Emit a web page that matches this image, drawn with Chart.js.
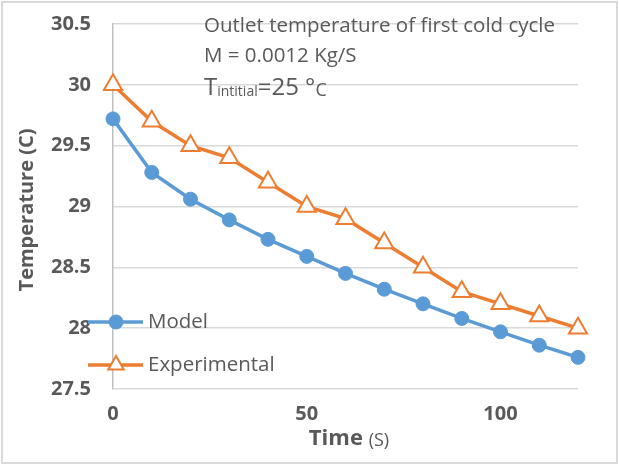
<!DOCTYPE html>
<html><head><meta charset="utf-8">
<script src="https://cdn.jsdelivr.net/npm/chart.js@4/dist/chart.umd.min.js"></script>
<style>html,body{margin:0;padding:0;background:#fff}#wrap{position:relative;width:619px;height:465px}</style>
</head><body><div id="wrap"><canvas id="c" width="619" height="465"></canvas></div>
<script>
const times = [0,10,20,30,40,50,60,70,80,90,100,110,120];
const modelTemps = [29.72,29.28,29.06,28.89,28.73,28.59,28.45,28.32,28.20,28.08,27.97,27.86,27.76];
const expTemps = [30.0,29.7,29.5,29.4,29.2,29.0,28.9,28.7,28.5,28.3,28.2,28.1,28.0];
const xTicks = [0,50,100];
const seriesNames = ['Model','Experimental'];
const noteLines = ['Outlet temperature of first cold cycle','M = 0.0012 Kg/S'];

const FONT = '"Open Sans", sans-serif';
const GREY = '#595959';
const BLUE = '#5b9bd5', ORANGE = '#ed7d31';

const extras = {
  id:'extras',
  afterDraw(chart){
    const ctx = chart.ctx;
    ctx.save();
    ctx.strokeStyle = '#d9d9d9'; ctx.lineWidth = 2;
    ctx.strokeRect(2,2,615,461);
    ctx.fillStyle = GREY; ctx.textBaseline = 'middle'; ctx.textAlign = 'left';
    ctx.font = '20.5px ' + FONT;
    ctx.fillText(noteLines[0], 204, 26);
    ctx.fillText(noteLines[1], 204, 56);
    let x = 204;
    ctx.font = '24px ' + FONT; ctx.fillText('T', x, 88); x += ctx.measureText('T').width;
    ctx.font = '14px ' + FONT; ctx.fillText('intitial', x, 92); x += ctx.measureText('intitial').width;
    ctx.font = '24px ' + FONT; ctx.fillText('=25 °', x, 88); x += ctx.measureText('=25 °').width;
    ctx.font = '18px ' + FONT; ctx.fillText('C', x, 91);
    ctx.save();
    ctx.translate(27, 210); ctx.rotate(-Math.PI/2);
    ctx.textAlign = 'center'; ctx.font = 'bold 20px ' + FONT;
    ctx.fillText('Temperature (C)', 0, 0);
    ctx.restore();
    ctx.font = 'bold 22px ' + FONT;
    const w1 = ctx.measureText('Time ').width;
    ctx.font = '18px ' + FONT;
    const w2 = ctx.measureText('(S)').width;
    let sx = 349 - (w1 + w2)/2;
    ctx.font = 'bold 22px ' + FONT; ctx.fillText('Time ', sx, 439);
    ctx.font = '18px ' + FONT; ctx.fillText('(S)', sx + w1, 441);
    const items = chart.data.datasets;
    const ly = [322, 365];
    items.forEach((ds, i) => {
      ctx.strokeStyle = ds.borderColor; ctx.lineWidth = ds.borderWidth;
      ctx.beginPath(); ctx.moveTo(88, ly[i]); ctx.lineTo(143, ly[i]); ctx.stroke();
      ctx.fillStyle = ds.pointBackgroundColor; ctx.strokeStyle = ds.pointBorderColor; ctx.lineWidth = ds.pointBorderWidth;
      Chart.helpers.drawPoint(ctx, {pointStyle: ds.pointStyle, radius: ds.pointStyle==='circle'?7:9, borderWidth: ds.pointBorderWidth, rotation:0}, 116, ly[i]);
      ctx.fillStyle = GREY; ctx.font = '20.5px ' + FONT; ctx.textAlign='left';
      ctx.fillText(ds.label, 148, ly[i]);
    });
    ctx.restore();
  }
};

new Chart(document.getElementById('c'), {
  type: 'scatter',
  data: { datasets: [
    { label: seriesNames[0], data: times.map((t,i)=>({x:t,y:modelTemps[i]})), showLine:true, clip:false,
      borderColor: BLUE, borderWidth: 3.5, pointStyle:'circle', pointRadius: 7,
      pointBackgroundColor: BLUE, pointBorderColor: BLUE, pointBorderWidth: 1 },
    { label: seriesNames[1], data: times.map((t,i)=>({x:t,y:expTemps[i]})), showLine:true, clip:false,
      borderColor: ORANGE, borderWidth: 3.5, pointStyle:'triangle', pointRadius: 10.5,
      pointBackgroundColor: '#fff', pointBorderColor: ORANGE, pointBorderWidth: 2 }
  ]},
  options: {
    responsive:false, animation:false, devicePixelRatio:1,
    layout: { padding: { left:0, top:24, right:41, bottom:0 } },
    plugins: { legend:{display:false}, tooltip:{enabled:false} },
    scales: {
      x: { type:'linear', min:0, max:120,
        afterBuildTicks: s => { s.ticks = xTicks.map(v=>({value:v})); },
        afterFit: s => { s.height = 76; s.paddingLeft = 0; s.paddingRight = 0; },
        grid: { display:false, drawTicks:false },
        border: { display:false },
        ticks: { color: GREY, font:{family:FONT, size:20, weight:'bold'}, padding: 13, maxRotation:0 }
      },
      y: { min:27.5, max:30.5,
        afterFit: s => { s.width = 113; s.paddingTop = 0; s.paddingBottom = 0; },
        grid: { color:'#d9d9d9', lineWidth:1.5, drawTicks:false },
        border: { display:true, color:'#bfbfbf', width:1.5 },
        ticks: { stepSize:0.5, color: GREY, font:{family:FONT, size:20, weight:'bold'}, padding: 22,
          callback: v => String(v) }
      }
    }
  },
  plugins: [extras]
});
</script></body></html>
